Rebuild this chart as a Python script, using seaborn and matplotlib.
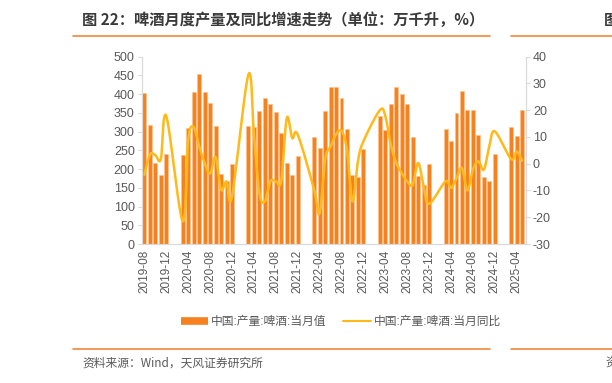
import numpy as np
import pandas as pd

import matplotlib
matplotlib.use('Agg')
import matplotlib.pyplot as plt
from matplotlib.lines import Line2D
import seaborn as sns

sns.set_style('white')
plt.rcParams['font.family'] = ['Liberation Sans', 'Noto Sans CJK SC', 'DejaVu Sans']
plt.rcParams['axes.unicode_minus'] = False

nan = np.nan

# 2019-08 .. 2025-05, Jan/Feb not published
months = list(pd.period_range('2019-08', '2025-05', freq='M').strftime('%Y-%m'))

production = [
	402, 317, 215, 184, 240,
	nan, nan, 237, 310, 407, 454, 405, 377, 315, 187, 167, 213,
	nan, nan, 315, 312, 355, 389, 375, 352, 297, 217, 184, 234,
	nan, nan, 285, 257, 355, 418, 420, 391, 307, 184, 178, 254,
	nan, nan, 342, 304, 374, 418, 400, 373, 285, 182, 157, 214,
	nan, nan, 306, 276, 351, 409, 357, 357, 290, 179, 168, 239,
	nan, nan, 311, 288, 357,
]

yoy = [
	-4.1, 3.4, 3.2, 1.7, 17.8,
	nan, nan, -21.6, 9.0, 13.7, 6.5, 0.3, -3.7, 2.5, -9.7, -6.6, -12.2,
	nan, nan, 33.4, 11.0, -11.0, -14.1, -6.6, -6.6, -6.4, 17.1, 9.6, 10.9,
	nan, nan, -9.7, -18.5, 1.5, 6.5, 10.9, 12.3, 5.2, -14.1, 1.0, 8.4,
	nan, nan, 20.0, 17.8, 7.1, 0.3, -3.5, -6.6, -7.9, 0.3, -8.5, -15.0,
	nan, nan, -6.6, -9.1, -5.4, -1.6, -10.0, -2.2, 0.9, -2.2, 6.5, 12.1,
	nan, nan, 1.7, 4.6, 1.1,
]

bar_label = '中国:产量:啤酒:当月值'
line_label = '中国:产量:啤酒:当月同比'
title = '图 22：啤酒月度产量及同比增速走势（单位：万千升，%）'
source = '资料来源：Wind，天风证券研究所'

BAR_COLOR = '#F5821F'
LINE_COLOR = '#FFBA1A'
GREY = '#595959'
AXIS_GREY = '#D9D9D9'
RULE_COLOR = '#F0883A'


def smooth_curve(x, y, steps=12):
	# excel-like smoothed line (catmull-rom through the valid points)
	x = np.asarray(x, dtype=float)
	y = np.asarray(y, dtype=float)
	xs, ys = [], []
	n = len(x)
	for i in range(n - 1):
		p0 = (x[max(i-1, 0)], y[max(i-1, 0)])
		p1 = (x[i], y[i])
		p2 = (x[i+1], y[i+1])
		p3 = (x[min(i+2, n-1)], y[min(i+2, n-1)])
		for t in np.linspace(0, 1, steps, endpoint=False):
			t2, t3 = t*t, t*t*t
			for out, k in ((xs, 0), (ys, 1)):
				out.append(0.5 * (2*p1[k] + (-p0[k] + p2[k])*t
					+ (2*p0[k] - 5*p1[k] + 4*p2[k] - p3[k])*t2
					+ (-p0[k] + 3*p1[k] - 3*p2[k] + p3[k])*t3))
	xs.append(x[-1])
	ys.append(y[-1])
	return np.array(xs), np.array(ys)


def main():
	df = pd.DataFrame({'Month': months, 'Production': production, 'YoY': yoy})

	fig = plt.figure(figsize=(6.12, 3.83), dpi=100)
	ax = fig.add_axes([0.2315, 0.3629, 0.6280, 0.4891])

	sns.barplot(data=df, x='Month', y='Production', order=months, color=BAR_COLOR,
		width=0.72, edgecolor='#FBC08E', linewidth=0.4, saturation=1, ax=ax)

	ax2 = ax.twinx()
	valid = df.dropna(subset=['YoY'])
	pos = [months.index(m) for m in valid['Month']]
	xs, ys = smooth_curve(pos, valid['YoY'].values)
	sns.lineplot(x=xs, y=ys, sort=False, estimator=None, color=LINE_COLOR, linewidth=1.8, ax=ax2)

	ax.set_xlim(-0.4, 69.7)
	ax.set_ylim(0, 500)
	ax.set_yticks(range(0, 501, 50))
	ax2.set_ylim(-30, 40)
	ax2.set_yticks(range(-30, 41, 10))

	tick_pos = list(range(0, len(months), 4))
	ax.set_xticks(tick_pos)
	ax.set_xticklabels([months[i] for i in tick_pos], rotation=90)
	ax.set_xticks([p - 0.5 for p in tick_pos], minor=True)
	ax.tick_params(axis='x', which='major', length=0, pad=4, labelsize=8.5, labelcolor=GREY)
	ax.tick_params(axis='x', which='minor', length=3, color=AXIS_GREY, direction='out')
	ax.tick_params(axis='y', length=3, color=AXIS_GREY, labelsize=9, labelcolor=GREY, pad=2, left=True)
	ax2.tick_params(axis='y', length=3, color=AXIS_GREY, labelsize=9, labelcolor=GREY, pad=2, right=True)
	ax.set_xlabel('')
	ax.set_ylabel('')
	ax2.set_ylabel('')

	for a in (ax, ax2):
		a.spines['top'].set_visible(False)
		for s in ('left', 'right', 'bottom'):
			a.spines[s].set_color(AXIS_GREY)
			a.spines[s].set_linewidth(0.8)
		a.grid(False)

	handles = [
		Line2D([0], [0], color=BAR_COLOR, linewidth=5.5, solid_capstyle='butt'),
		Line2D([0], [0], color=LINE_COLOR, linewidth=1.5),
	]
	fig.legend(handles, [bar_label, line_label], loc='center', bbox_to_anchor=(341/612, 1-322/383),
		ncol=2, frameon=False, fontsize=8.5, labelcolor=GREY, handlelength=2.3,
		handletextpad=0.3, columnspacing=1.4)

	# header / footer decoration of the report page (neighbouring figure cut at the right edge)
	fig.text(82/612, 1-20/383, title, fontsize=11, fontweight='bold', color='#3A3A3A',
		family=['Noto Sans CJK SC', 'DejaVu Sans'], va='center', ha='left')
	fig.text(604/612, 1-20/383, '图', fontsize=11, fontweight='bold', color='#3A3A3A',
		family=['Noto Sans CJK SC'], va='center', ha='left')
	fig.text(82/612, 1-363/383, source, fontsize=8.5, color=GREY,
		family=['Noto Sans CJK SC', 'DejaVu Sans'], va='center', ha='left')
	fig.text(605/612, 1-363/383, '资', fontsize=8.5, color=GREY,
		family=['Noto Sans CJK SC'], va='center', ha='left')
	for yy in (36, 349):
		fig.add_artist(Line2D([73/612, 490/612], [1-yy/383]*2, color=RULE_COLOR, linewidth=1.2))
		fig.add_artist(Line2D([511/612, 1.0], [1-yy/383]*2, color=RULE_COLOR, linewidth=1.2))

	fig.savefig('out.png', dpi=100)


if __name__ == '__main__':
	main()
